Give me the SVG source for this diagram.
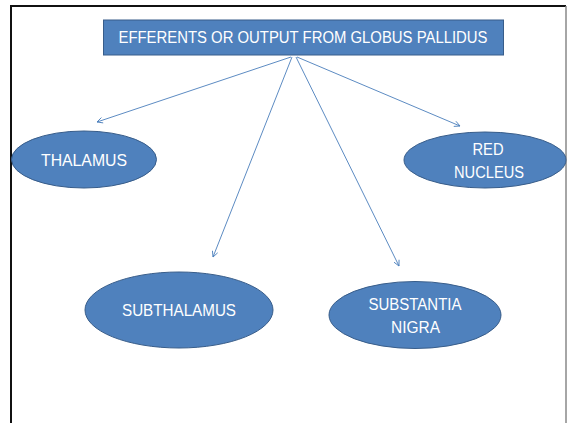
<svg xmlns="http://www.w3.org/2000/svg" width="571" height="423" viewBox="0 0 571 423">
  <defs>
    <marker id="arrow" viewBox="0 0 10 10" refX="9" refY="5" markerWidth="7" markerHeight="7" orient="auto" markerUnits="userSpaceOnUse">
      <path d="M1,1 L9,5 L1,9" fill="none" stroke="#4a7ebb" stroke-width="1.2"/>
    </marker>
  </defs>
  <style>
    .shape { fill: #4f81bd; stroke: #385d8a; stroke-width: 1; }
    .label { fill: #ffffff; font-family: "Liberation Sans", Arial, sans-serif; font-size: 16px; text-anchor: middle; }
    .title { font-size: 16px; }
    .edge { stroke: #4a7ebb; stroke-width: 0.9; fill: none; marker-end: url(#arrow); }
  </style>

  <!-- slide background and frame -->
  <rect x="0" y="0" width="571" height="423" fill="#ffffff"/>
  <path d="M11,423 L11,6 L566,6" fill="none" stroke="#111111" stroke-width="2"/>
  <line x1="566" y1="6" x2="566" y2="423" stroke="#888888" stroke-width="1.5"/>

  <g id="connectors">
    <line class="edge" x1="291" y1="57" x2="97" y2="122"/>
    <line class="edge" x1="292" y1="57" x2="213" y2="257"/>
    <line class="edge" x1="296" y1="57" x2="399" y2="266"/>
    <line class="edge" x1="297" y1="57" x2="460" y2="126"/>
  </g>

  <g id="globus-pallidus">
    <rect class="shape" x="103.5" y="20" width="400" height="35"/>
    <text class="label title" x="303" y="43" textLength="369" lengthAdjust="spacingAndGlyphs">EFFERENTS OR OUTPUT FROM GLOBUS PALLIDUS</text>
  </g>

  <g id="thalamus">
    <ellipse class="shape" cx="84" cy="159.5" rx="72.5" ry="28.5"/>
    <text class="label" x="84" y="165.5" textLength="86" lengthAdjust="spacingAndGlyphs">THALAMUS</text>
  </g>

  <g id="red-nucleus">
    <ellipse class="shape" cx="485" cy="160" rx="81" ry="28"/>
    <text class="label" x="488" y="154.5" textLength="31" lengthAdjust="spacingAndGlyphs">RED</text>
    <text class="label" x="489" y="178" textLength="70" lengthAdjust="spacingAndGlyphs">NUCLEUS</text>
  </g>

  <g id="subthalamus">
    <ellipse class="shape" cx="179" cy="310" rx="94" ry="38"/>
    <text class="label" x="179" y="316" textLength="114" lengthAdjust="spacingAndGlyphs">SUBTHALAMUS</text>
  </g>

  <g id="substantia-nigra">
    <ellipse class="shape" cx="415" cy="315" rx="86" ry="33.5"/>
    <text class="label" x="415" y="309.5" textLength="93" lengthAdjust="spacingAndGlyphs">SUBSTANTIA</text>
    <text class="label" x="415.5" y="333" textLength="49" lengthAdjust="spacingAndGlyphs">NIGRA</text>
  </g>
</svg>
